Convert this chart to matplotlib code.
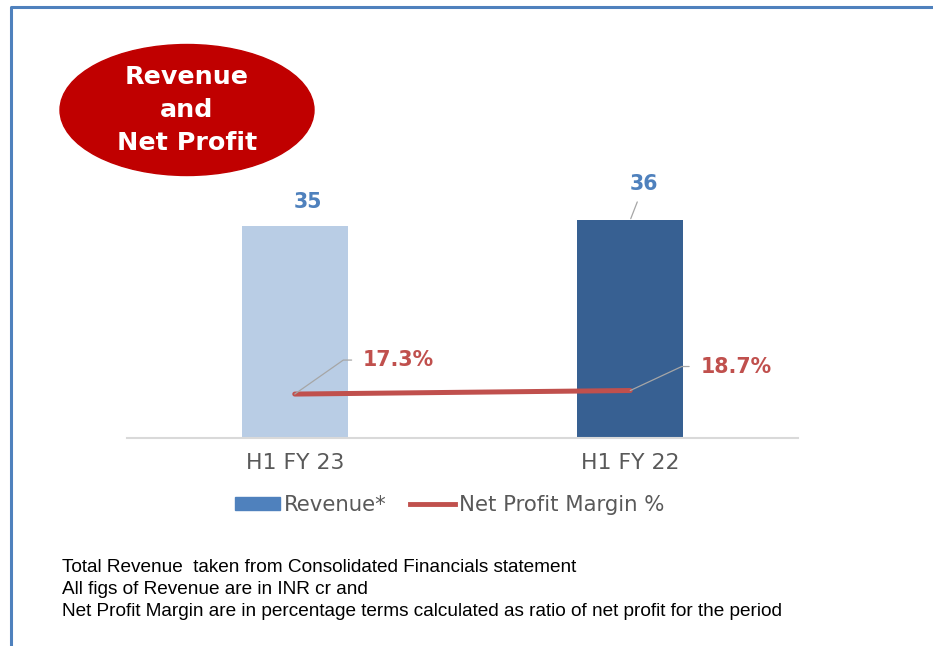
import matplotlib
matplotlib.use("Agg")
import matplotlib.pyplot as plt
from matplotlib.patches import Ellipse, Patch
from matplotlib.lines import Line2D

# data
periods = ["H1 FY 23", "H1 FY 22"]
revenue = [35, 36]
margin = [17.3, 18.7]
revenue_labels = ["35", "36"]
margin_labels = ["17.3%", "18.7%"]
notes = [
    "Total Revenue  taken from Consolidated Financials statement",
    "All figs of Revenue are in INR cr and",
    "Net Profit Margin are in percentage terms calculated as ratio of net profit for the period",
]

W, H = 933, 646
fig = plt.figure(figsize=(W / 100, H / 100), dpi=100)

# background overlay in pixel coordinates (frame, badge, notes)
bg = fig.add_axes([0, 0, 1, 1])
bg.set_xlim(0, W)
bg.set_ylim(H, 0)
bg.axis("off")
bg.plot([11, 11, W], [H, 7, 7], color="#4F81BD", lw=2.2, solid_capstyle="butt")
bg.add_patch(Ellipse((187, 110), 254, 131, color="#C00000"))
for txt, y in zip(["Revenue", "and", "Net Profit"], [77, 110, 143]):
    bg.text(187, y, txt, color="white", fontsize=18.3, fontweight="bold",
            ha="center", va="center")
for i, line in enumerate(notes):
    bg.text(62, 568 + 22 * i, line, fontsize=13.7, family="Liberation Sans",
            color="black", va="center", ha="left")

# chart axes
ax = fig.add_axes([127 / W, (H - 438) / H, 671 / W, 258 / H])
x = list(range(len(periods)))
ax.bar(x, revenue, width=0.315, color=["#B9CDE5", "#376092"])
ax.set_xlim(-0.5, 1.5)
ax.set_ylim(0, 42.6)
ax.set_xticks(x)
ax.set_xticklabels(periods, fontsize=15.8, color="#595959")
ax.tick_params(axis="x", length=0, pad=11)
ax.set_yticks([])
for s in ["top", "right", "left"]:
    ax.spines[s].set_visible(False)
ax.spines["bottom"].set_color("#D9D9D9")
ax.spines["bottom"].set_linewidth(1.5)
ax.patch.set_alpha(0)

ax.annotate(revenue_labels[0], (x[0], revenue[0]), xytext=(13, 24),
            textcoords="offset pixels", ha="center", va="center",
            fontsize=14.8, fontweight="bold", color="#4F81BD")
ax.annotate(revenue_labels[1], (x[1], revenue[1]), xytext=(14, 36),
            textcoords="offset pixels", ha="center", va="center",
            fontsize=14.8, fontweight="bold", color="#4F81BD",
            arrowprops=dict(arrowstyle="-", color="#A6A6A6", lw=0.9,
                            shrinkA=4, shrinkB=1))

ax2 = ax.twinx()
ax2.set_ylim(0, 101.6)
ax2.axis("off")
ax2.plot(x, margin, color="#C0504D", lw=3.6, solid_capstyle="round")
offsets = [(68, 34), (70, 24)]
angles = [35, 25]
for xi, m, lab, off, ang in zip(x, margin, margin_labels, offsets, angles):
    ax2.annotate(lab, (xi, m), xytext=off, textcoords="offset pixels",
                 ha="left", va="center", fontsize=14.8, fontweight="bold",
                 color="#C0504D",
                 arrowprops=dict(arrowstyle="-", color="#A6A6A6", lw=0.9,
                                 shrinkA=6, shrinkB=0, relpos=(0, 0.5),
                                 connectionstyle=f"angle,angleA=0,angleB={ang},rad=0"))

handles = [Patch(color="#4F81BD"), Line2D([], [], color="#C0504D", lw=3.5)]
fig.legend(handles, ["Revenue*", "Net Profit Margin %"], loc="center",
           bbox_to_anchor=(450 / W, 1 - 505 / H), ncol=2, frameon=False,
           fontsize=15.3, labelcolor="#595959", handlelength=2.1,
           handleheight=0.55, handletextpad=0.2, columnspacing=1.1)

fig.savefig("out.png", dpi=100)
